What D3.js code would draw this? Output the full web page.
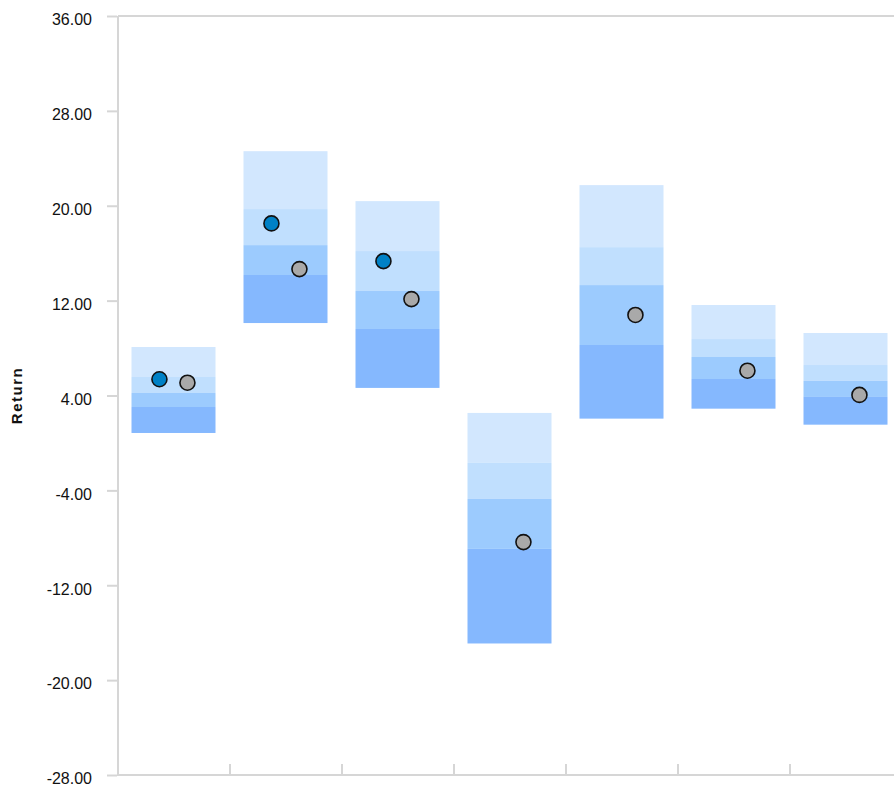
<!DOCTYPE html>
<html>
<head>
<meta charset="utf-8">
<script src="https://cdn.jsdelivr.net/npm/d3@7"></script>
<style>
  html, body { margin: 0; padding: 0; background: #fff; }
  svg { display: block; }
</style>
</head>
<body>
<svg id="chart" width="894" height="787"></svg>
<script>
// ---- data ----
const categories = ["Period 1", "Period 2", "Period 3", "Period 4", "Period 5", "Period 6", "Period 7"];
const pct5  = [8.09, 24.60, 20.39, 2.53, 21.74, 11.63, 9.27];
const pct25 = [5.56, 19.72, 16.18, -1.68, 16.51, 8.76, 6.57];
const pct50 = [4.21, 16.68, 12.81, -4.72, 13.31, 7.25, 5.23];
const pct75 = [3.03, 14.16, 9.61, -8.93, 8.26, 5.39, 3.88];
const pct95 = [0.84, 10.11, 4.64, -16.91, 2.05, 2.89, 1.54];
const fundValues  = [5.37, 18.51, 15.33, null, null, null, null];
const benchValues = [5.08, 14.66, 12.13, -8.36, 10.79, 6.09, 4.05];
const yTicks = [36, 28, 20, 12, 4, -4, -12, -20, -28];
const yLabel = "Return";

(function () {
// ---- layout ----
const svg = d3.select("#chart");
const mLeft = 118, mRight = 902, mTop = 16, mBottom = 775;
const bandColors = ["#d2e7fe", "#c0dffe", "#9ccbfe", "#85b8fe"];
const axisColor = "#d6d6d6";

const y = d3.scaleLinear().domain([-28, 36]).range([mBottom, mTop]);
const x = d3.scaleBand().domain(categories).range([mLeft, mRight]).padding(0);
const bw = x.bandwidth();
const barW = bw * 0.75;

// bars (stacked percentile ranges)
const ranges = [
  [pct5, pct25],
  [pct25, pct50],
  [pct50, pct75],
  [pct75, pct95]
];
const gBars = svg.append("g");
ranges.forEach((r, i) => {
  gBars.selectAll(null)
    .data(categories)
    .enter().append("rect")
    .attr("x", d => x(d) + (bw - barW) / 2 - 0.5)
    .attr("width", barW)
    .attr("y", (d, j) => y(r[0][j]))
    .attr("height", (d, j) => y(r[1][j]) - y(r[0][j]))
    .attr("fill", bandColors[i]);
});

// y axis
const yAxis = d3.axisLeft(y).tickValues(yTicks).tickFormat(d => d.toFixed(2)).tickSize(10).tickPadding(15);
const gy = svg.append("g").attr("transform", `translate(${mLeft - 1},0)`).call(yAxis);
gy.select(".domain").remove();
gy.selectAll(".tick line").attr("stroke", axisColor).attr("stroke-width", 2);
gy.selectAll(".tick text")
  .attr("font-family", "Liberation Sans, Arial, sans-serif")
  .attr("font-size", 16)
  .attr("fill", "#111")
  .attr("dy", "0.55em");

// frame lines
svg.append("line").attr("x1", mLeft).attr("x2", mLeft).attr("y1", mTop).attr("y2", mBottom + 1)
  .attr("stroke", axisColor).attr("stroke-width", 2);
svg.append("line").attr("x1", mLeft).attr("x2", 894).attr("y1", mTop).attr("y2", mTop)
  .attr("stroke", axisColor).attr("stroke-width", 2);
svg.append("line").attr("x1", mLeft - 1).attr("x2", 894).attr("y1", mBottom).attr("y2", mBottom)
  .attr("stroke", axisColor).attr("stroke-width", 2);

// bottom tick marks between categories
svg.append("g").selectAll("line")
  .data(categories.slice(1))
  .enter().append("line")
  .attr("x1", d => x(d)).attr("x2", d => x(d))
  .attr("y1", mBottom - 11).attr("y2", mBottom)
  .attr("stroke", axisColor).attr("stroke-width", 2);

// dots
const gDots = svg.append("g");
gDots.selectAll(null)
  .data(categories.map((c, i) => ({c, v: fundValues[i]})).filter(d => d.v !== null))
  .enter().append("circle")
  .attr("cx", d => x(d.c) + bw * 0.37)
  .attr("cy", d => y(d.v))
  .attr("r", 7.5)
  .attr("fill", "#0081c6")
  .attr("stroke", "#111")
  .attr("stroke-width", 1.6);
gDots.selectAll(null)
  .data(categories.map((c, i) => ({c, v: benchValues[i]})).filter(d => d.v !== null))
  .enter().append("circle")
  .attr("cx", d => x(d.c) + bw * 0.62)
  .attr("cy", d => y(d.v))
  .attr("r", 7.5)
  .attr("fill", "#a9a9a9")
  .attr("stroke", "#111")
  .attr("stroke-width", 1.6);

// y label
svg.append("text")
  .attr("transform", `translate(22,${(mTop + mBottom) / 2}) rotate(-90)`)
  .attr("text-anchor", "middle")
  .attr("font-family", "Liberation Sans, Arial, sans-serif")
  .attr("font-size", 15)
  .attr("font-weight", "bold")
  .attr("letter-spacing", "1.5px")
  .attr("fill", "#111")
  .text(yLabel);
})();
</script>
</body>
</html>
